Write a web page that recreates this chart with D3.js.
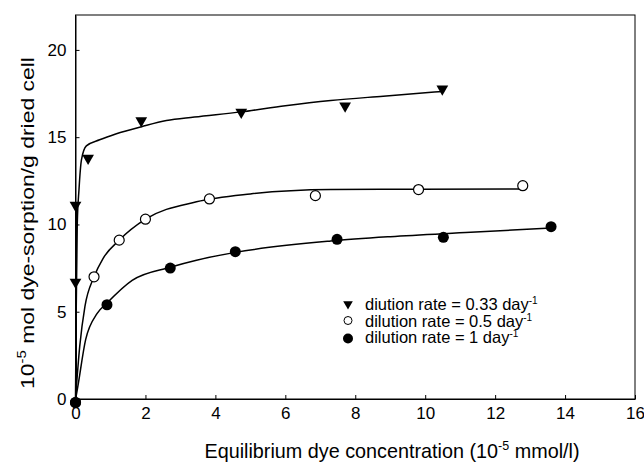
<!DOCTYPE html>
<html>
<head>
<meta charset="utf-8">
<script src="https://cdn.jsdelivr.net/npm/d3@7"></script>
<style>
  html, body { margin: 0; padding: 0; background: #fff; }
  svg { display: block; font-family: "Liberation Sans", Arial, sans-serif; }
</style>
</head>
<body>
<div id="chart"></div>
<script>
// measured points (x = equilibrium dye conc., y = sorption)
const triX = [0, 0, 0.36, 1.88, 4.74, 7.71, 10.49];
const triY = [6.7, 11.1, 13.8, 15.95, 16.43, 16.79, 17.77];
const openX = [0, 0.53, 1.25, 2.0, 3.83, 6.86, 9.81, 12.79];
const openY = [-0.2, 7.0, 9.1, 10.3, 11.46, 11.65, 12.0, 12.22];
const fillX = [0, 0.9, 2.71, 4.57, 7.48, 10.52, 13.6];
const fillY = [-0.2, 5.4, 7.5, 8.44, 9.15, 9.26, 9.87];

// fitted curves
const triCurveX = [0, 0.02, 0.05, 0.1, 0.17, 0.31, 0.69, 1.17, 1.89, 2.6, 3.4, 4.74, 6.0, 7.3, 8.8, 10.5];
const triCurveY = [0, 5, 10, 12, 13.7, 14.5, 14.85, 15.2, 15.6, 15.95, 16.15, 16.45, 16.8, 17.1, 17.35, 17.62];
const openCurveX = [0, 0.12, 0.27, 0.53, 0.79, 1.25, 2.0, 3.46, 5.0, 7.3, 9.8, 12.79];
const openCurveY = [0, 3.0, 5.3, 7.0, 8.06, 9.1, 10.3, 11.3, 11.75, 12.0, 12.02, 12.03];
const fillCurveX = [0, 0.03, 0.29, 0.62, 0.9, 1.62, 2.71, 3.46, 4.57, 7.3, 9.0, 11.3, 13.6];
const fillCurveY = [0, 0.3, 3.4, 4.9, 5.5, 6.8, 7.55, 7.95, 8.4, 9.05, 9.3, 9.55, 9.8];

const xTicks = [0, 2, 4, 6, 8, 10, 12, 14, 16];
const yTicks = [0, 5, 10, 15, 20];
const legendLabels = ["diution rate = 0.33 day", "dilution rate = 0.5 day", "dilution rate = 1 day"];

const W = 644, H = 463;
const m = { left: 75.5, right: 9, top: 15, bottom: 64 };

const svg = d3.select("#chart").append("svg").attr("width", W).attr("height", H);

const x = d3.scaleLinear().domain([0, 16]).range([m.left, W - m.right]);
const y = d3.scaleLinear().domain([0, 22]).range([H - m.bottom, m.top]);

// frame
svg.append("rect")
  .attr("x", x(0)).attr("y", y(22))
  .attr("width", x(16) - x(0)).attr("height", y(0) - y(22))
  .attr("fill", "none").attr("stroke", "#000").attr("stroke-width", 1);

// axes with inward ticks
const xAxis = svg.append("g")
  .attr("transform", `translate(0,${y(0)})`)
  .call(d3.axisBottom(x).tickValues(xTicks).tickSizeInner(-4).tickSizeOuter(0).tickPadding(8));
const yAxis = svg.append("g")
  .attr("transform", `translate(${x(0)},0)`)
  .call(d3.axisLeft(y).tickValues(yTicks).tickSizeInner(-4).tickSizeOuter(0).tickPadding(9));
[xAxis, yAxis].forEach(g => {
  g.attr("font-size", null).attr("font-family", null);
  g.select(".domain").attr("stroke", "#000");
  g.selectAll("line").attr("stroke", "#000");
  g.selectAll("text").attr("font-size", 17).attr("fill", "#000");
});

// curves
const line = d3.line().x(d => x(d[0])).y(d => y(d[1])).curve(d3.curveMonotoneX);
const curves = [
  d3.zip(triCurveX, triCurveY),
  d3.zip(openCurveX, openCurveY),
  d3.zip(fillCurveX, fillCurveY)
];
svg.append("g").selectAll("path")
  .data(curves)
  .enter()
  .append("path")
  .attr("d", line)
  .attr("fill", "none")
  .attr("stroke", "#000")
  .attr("stroke-width", 1.5);

// bold segment on y axis between origin and the x=0 triangles
svg.append("line")
  .attr("x1", x(0) + 0.5).attr("x2", x(0) + 0.5)
  .attr("y1", y(0)).attr("y2", y(triY[1]))
  .attr("stroke", "#000").attr("stroke-width", 2);

// markers
const tri = d3.symbol().type(d3.symbolTriangle).size(60);
svg.append("g").selectAll("path")
  .data(d3.zip(triX, triY))
  .enter()
  .append("path")
  .attr("d", tri)
  .attr("transform", d => `translate(${x(d[0])},${y(d[1])}) rotate(180)`)
  .attr("fill", "#000");

svg.append("g").selectAll("circle")
  .data(d3.zip(openX, openY))
  .enter()
  .append("circle")
  .attr("cx", d => x(d[0])).attr("cy", d => y(d[1]))
  .attr("r", 5)
  .attr("fill", "#fff").attr("stroke", "#000").attr("stroke-width", 1.2);

svg.append("g").selectAll("circle")
  .data(d3.zip(fillX, fillY))
  .enter()
  .append("circle")
  .attr("cx", d => x(d[0])).attr("cy", d => y(d[1]))
  .attr("r", 5.5)
  .attr("fill", "#000");

// legend
const lg = svg.append("g").attr("transform", "translate(348,304)");
legendLabels.forEach((lab, i) => {
  const row = lg.append("g").attr("transform", `translate(0,${i * 16.5})`);
  if (i === 0) {
    row.append("path").attr("d", d3.symbol().type(d3.symbolTriangle).size(40)).attr("transform", "rotate(180)").attr("fill", "#000");
  } else if (i === 1) {
    row.append("circle").attr("r", 4).attr("fill", "#fff").attr("stroke", "#000").attr("stroke-width", 1);
  } else {
    row.append("circle").attr("r", 5).attr("cy", 1.5).attr("fill", "#000");
  }
  const t = row.append("text")
    .attr("x", 17).attr("y", 6)
    .attr("font-size", 16.5).attr("fill", "#000");
  t.append("tspan").text(lab);
  t.append("tspan").attr("dy", -6).attr("font-size", 10).text("-1");
});

// axis titles
const xt = svg.append("text")
  .attr("x", 392).attr("y", 458)
  .attr("text-anchor", "middle").attr("font-size", 19.8).attr("fill", "#000");
xt.append("tspan").text("Equilibrium dye concentration (10");
xt.append("tspan").attr("dy", -8).attr("font-size", 12.5).text("-5");
xt.append("tspan").attr("dy", 8).text(" mmol/l)");

// y title is stretched along its length, as in the scanned figure
const yt = svg.append("text")
  .attr("transform", "translate(34,223) rotate(-90) scale(1.24,1)")
  .attr("text-anchor", "middle").attr("font-size", 18.5).attr("fill", "#000");
yt.append("tspan").text("10");
yt.append("tspan").attr("dy", -8).attr("font-size", 12).text("-5");
yt.append("tspan").attr("dy", 8).text(" mol dye-sorption/g dried cell");
</script>
</body>
</html>
